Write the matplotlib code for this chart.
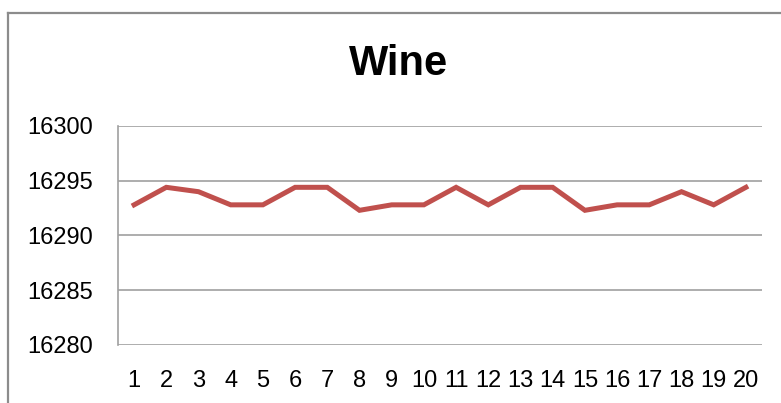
import matplotlib.pyplot as plt
from matplotlib.lines import Line2D

# series values
months = list(range(1, 21))
wine = [16292.8, 16294.4, 16294.0, 16292.8, 16292.8, 16294.4, 16294.4, 16292.3,
        16292.8, 16292.8, 16294.4, 16292.8, 16294.4, 16294.4, 16292.3, 16292.8,
        16292.8, 16294.0, 16292.8, 16294.4]
y_ticks = [16280, 16285, 16290, 16295, 16300]

plt.rcParams['font.family'] = ['Liberation Sans', 'DejaVu Sans']

fig = plt.figure(figsize=(7.81, 4.03), dpi=100)
fig.patch.set_facecolor('white')

# chart border (only top and left edges show)
fig.add_artist(Line2D([8 / 781, 8 / 781], [0, 1 - 13 / 403], transform=fig.transFigure,
                      color='#8c8c8c', lw=1.6))
fig.add_artist(Line2D([8 / 781, 1], [1 - 13 / 403, 1 - 13 / 403], transform=fig.transFigure,
                      color='#8c8c8c', lw=1.6))

ax = fig.add_axes([118 / 781, 1 - 345 / 403, (762 - 118) / 781, (345 - 126) / 403])
ax.plot(months, wine, color='#C0504D', lw=3.6, solid_joinstyle='miter', zorder=3)

ax.set_xlim(0.5, 20.5)
ax.set_ylim(16280, 16300)
ax.set_yticks(y_ticks)
ax.set_xticks(months)
ax.grid(axis='y', color='#a0a0a0', lw=1.2)
ax.set_axisbelow(True)
for side in ['top', 'right', 'bottom']:
    ax.spines[side].set_visible(False)
ax.spines['left'].set_color('#a0a0a0')
ax.spines['left'].set_linewidth(1.2)
ax.tick_params(axis='both', length=0, labelsize=17, labelcolor='black')
ax.tick_params(axis='y', pad=18)
ax.tick_params(axis='x', pad=18)

fig.text(399 / 781, 1 - 64 / 403, 'Wine', ha='center', va='center',
         fontsize=30, fontweight='bold')

fig.savefig('out.png', dpi=100)
